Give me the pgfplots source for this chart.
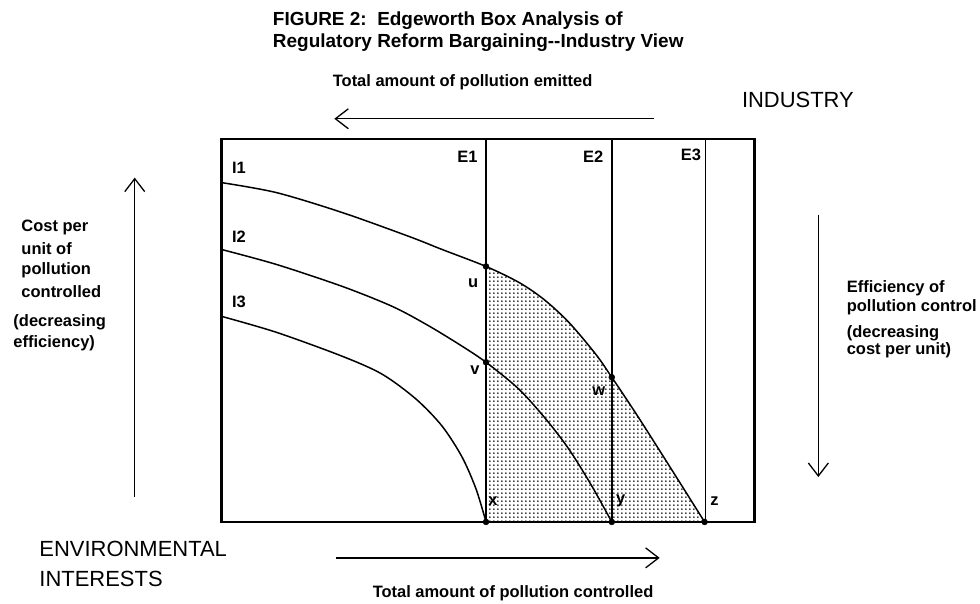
\documentclass[border=0pt]{standalone}
\usepackage{fontspec}
\setmainfont{Liberation Sans}
\usepackage{pgfplots}
\pgfplotsset{compat=1.18}
\usepgfplotslibrary{fillbetween}
\usetikzlibrary{arrows.meta,patterns.meta}
\tikzdeclarepattern{
  name=mydots,
  type=uncolored,
  bottom left={(0bp,0bp)},
  top right={(4.3bp,4.3bp)},
  tile size={(4.3bp,4.3bp)},
  code={\fill (2.15bp,2.15bp) circle[radius=1.05bp];}
}
\newcommand\lab{\bfseries\fontsize{16.5bp}{18bp}\selectfont}
\newcommand\bigf{\fontsize{22bp}{26bp}\selectfont}
\newcommand\ttl{\bfseries\fontsize{19bp}{24bp}\selectfont}
\tikzset{arr/.style={line width=1.3bp, -{Straight Barb[length=13bp,width=20bp,line width=1.3bp]}}}
\begin{document}
\begin{tikzpicture}
\begin{axis}[scale only axis, width=534bp, height=384bp,
  xmin=222, xmax=756, ymin=-523, ymax=-139,
  ticks=none, clip=false, axis line style={line width=2.4bp}]
\path (axis cs:0,0) rectangle (axis cs:980,-604);
% vertical lines E1 E2 E3
\addplot[line width=1.5bp] coordinates {(487,-139) (487,-523)};
\addplot[line width=1.5bp] coordinates {(613,-139) (613,-523)};
\addplot[line width=1.5bp] coordinates {(707,-139) (707,-523)};
% curves
\addplot[name path=I1, smooth, line width=1.5bp] coordinates {
 (222,-183) (277,-193) (343,-213) (410,-237) (443,-250) (487,-267)
 (520,-283) (545,-300) (570,-323) (597,-355) (613,-378)
 (637,-414) (660,-450) (684,-488) (706,-523)};
\addplot[smooth, line width=1.5bp] coordinates {
 (222,-250) (277,-265) (343,-287) (393,-307) (427,-325) (460,-345) (487,-363)
 (520,-390) (547,-420) (570,-450) (593,-487) (613,-523)};
\addplot[smooth, line width=1.5bp] coordinates {
 (222,-317) (277,-333) (343,-357) (383,-375) (417,-400) (443,-427)
 (463,-458) (477,-490) (487,-523)};
\path[name path=bot] (axis cs:222,-523) -- (axis cs:756,-523);
\addplot[draw=none, pattern=mydots] fill between[of=I1 and bot, soft clip={domain=487:706}];
% points
\addplot[only marks, mark=*, mark size=3bp] coordinates {
 (487,-267) (487,-363) (613,-378) (487,-523) (613,-523) (706,-523)};
% labels inside box
\node[anchor=west, font=\lab] at (axis cs:229,-168) {I1};
\node[anchor=west, font=\lab] at (axis cs:229,-237) {I2};
\node[anchor=west, font=\lab] at (axis cs:229,-302) {I3};
\node[anchor=east, font=\lab] at (axis cs:482,-157) {E1};
\node[anchor=east, font=\lab] at (axis cs:608,-157) {E2};
\node[anchor=east, font=\lab] at (axis cs:706,-155) {E3};
\node[font=\lab] at (axis cs:474,-284) {u};
\node[font=\lab] at (axis cs:476,-371) {v};
\node[font=\lab] at (axis cs:600,-392) {w};
\node[font=\lab] at (axis cs:494,-502) {x};
\node[font=\lab] at (axis cs:622,-502) {y};
\node[font=\lab] at (axis cs:716,-502) {z};
% title
\node[anchor=west, font=\ttl] at (axis cs:270,-21) {FIGURE 2:\ \ Edgeworth Box Analysis of};
\node[anchor=west, font=\ttl] at (axis cs:270,-43) {Regulatory Reform Bargaining-{}-Industry View};
% top label and arrow
\node[anchor=west, font=\lab] at (axis cs:330,-82) {Total amount of pollution emitted};
\draw[arr] (axis cs:655,-119) -- (axis cs:335,-119);
\node[anchor=west, font=\bigf] at (axis cs:740,-100) {INDUSTRY};
% left
\draw[arr] (axis cs:135,-498) -- (axis cs:135,-178);
\node[anchor=west, font=\lab] at (axis cs:18,-228) {Cost per};
\node[anchor=west, font=\lab] at (axis cs:18,-249) {unit of};
\node[anchor=west, font=\lab] at (axis cs:18,-271) {pollution};
\node[anchor=west, font=\lab] at (axis cs:18,-292) {controlled};
\node[anchor=west, font=\lab] at (axis cs:10,-323) {(decreasing};
\node[anchor=west, font=\lab] at (axis cs:10,-344) {efficiency)};
% right
\draw[arr] (axis cs:820,-215) -- (axis cs:820,-478);
\node[anchor=west, font=\lab] at (axis cs:845,-289) {Efficiency of};
\node[anchor=west, font=\lab] at (axis cs:845,-308) {pollution control};
\node[anchor=west, font=\lab] at (axis cs:845,-334) {(decreasing};
\node[anchor=west, font=\lab] at (axis cs:845,-351) {cost per unit)};
% bottom
\node[anchor=west, font=\bigf] at (axis cs:36,-550) {ENVIRONMENTAL};
\node[anchor=west, font=\bigf] at (axis cs:36,-580) {INTERESTS};
\draw[arr] (axis cs:337,-559) -- (axis cs:661,-559);
\node[anchor=west, font=\lab] at (axis cs:370,-594) {Total amount of pollution controlled};
\end{axis}
\end{tikzpicture}
\end{document}
